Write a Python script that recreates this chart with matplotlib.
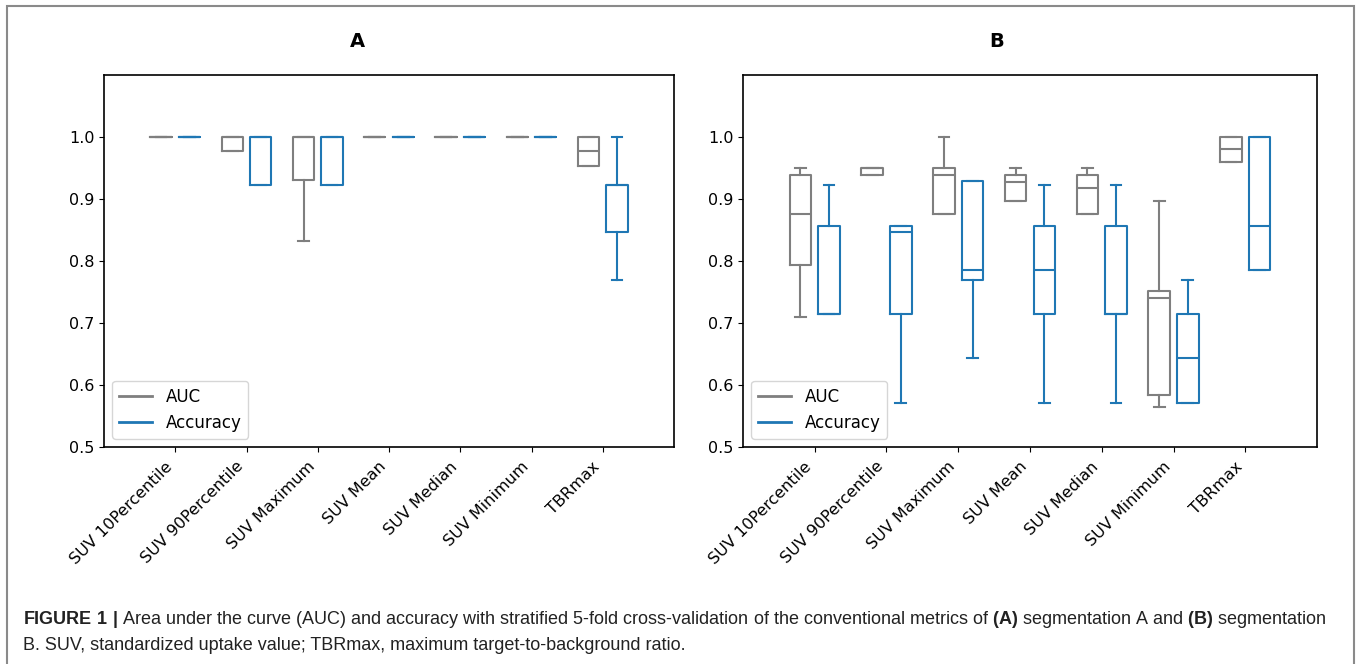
import matplotlib
matplotlib.use("Agg")
import matplotlib.pyplot as plt
from matplotlib.lines import Line2D
from matplotlib.patches import Rectangle

# category labels (same for both panels)
labels = ["SUV 10Percentile", "SUV 90Percentile", "SUV Maximum", "SUV Mean",
          "SUV Median", "SUV Minimum", "TBRmax"]

# panel A - segmentation A
a_auc_lo  = [1.0, 0.977, 0.833, 1.0, 1.0, 1.0, 0.953]
a_auc_q1  = [1.0, 0.977, 0.930, 1.0, 1.0, 1.0, 0.953]
a_auc_med = [1.0, 1.0, 1.0, 1.0, 1.0, 1.0, 0.977]
a_auc_q3  = [1.0, 1.0, 1.0, 1.0, 1.0, 1.0, 1.0]
a_auc_hi  = [1.0, 1.0, 1.0, 1.0, 1.0, 1.0, 1.0]

a_acc_lo  = [1.0, 0.923, 0.923, 1.0, 1.0, 1.0, 0.769]
a_acc_q1  = [1.0, 0.923, 0.923, 1.0, 1.0, 1.0, 0.846]
a_acc_med = [1.0, 1.0, 1.0, 1.0, 1.0, 1.0, 0.923]
a_acc_q3  = [1.0, 1.0, 1.0, 1.0, 1.0, 1.0, 0.923]
a_acc_hi  = [1.0, 1.0, 1.0, 1.0, 1.0, 1.0, 1.0]

# panel B - segmentation B
b_auc_lo  = [0.709, 0.938, 0.876, 0.897, 0.876, 0.564, 0.959]
b_auc_q1  = [0.793, 0.938, 0.876, 0.897, 0.876, 0.584, 0.959]
b_auc_med = [0.876, 0.950, 0.938, 0.928, 0.918, 0.740, 0.980]
b_auc_q3  = [0.938, 0.950, 0.950, 0.938, 0.938, 0.751, 1.0]
b_auc_hi  = [0.950, 0.950, 1.0, 0.950, 0.950, 0.897, 1.0]

b_acc_lo  = [0.714, 0.571, 0.643, 0.571, 0.571, 0.571, 0.786]
b_acc_q1  = [0.714, 0.714, 0.770, 0.714, 0.714, 0.571, 0.786]
b_acc_med = [0.714, 0.846, 0.786, 0.786, 0.714, 0.643, 0.857]
b_acc_q3  = [0.857, 0.857, 0.929, 0.857, 0.857, 0.714, 1.0]
b_acc_hi  = [0.923, 0.857, 0.929, 0.923, 0.923, 0.770, 1.0]

GRAY = "#7f7f7f"
BLUE = "#1f77b4"

plt.rcParams['mathtext.fontset'] = 'custom'
plt.rcParams['mathtext.rm'] = 'Liberation Sans'
plt.rcParams['mathtext.bf'] = 'Liberation Sans:bold'


def make_stats(lo, q1, med, q3, hi):
    return [dict(whislo=lo[i], q1=q1[i], med=med[i], q3=q3[i], whishi=hi[i], fliers=[])
            for i in range(len(lo))]


def draw_boxes(ax, stats, pos, color):
    st = dict(color=color, linewidth=1.5)
    ax.bxp(stats, positions=pos, widths=0.3, showfliers=False,
           boxprops=st, whiskerprops=st, capprops=st, medianprops=st)


def panel(ax, auc, acc):
    n = len(labels)
    draw_boxes(ax, make_stats(*auc), [i + 1 - 0.2 for i in range(n)], GRAY)
    draw_boxes(ax, make_stats(*acc), [i + 1 + 0.2 for i in range(n)], BLUE)
    ax.set_xlim(0, 8)
    ax.set_ylim(0.5, 1.1)
    ax.set_xticks(range(1, n + 1))
    ax.set_xticklabels(labels, rotation=45, ha='right', fontsize=11.5)
    ax.set_yticks([0.5, 0.6, 0.7, 0.8, 0.9, 1.0])
    ax.set_yticklabels(["0.5", "0.6", "0.7", "0.8", "0.9", "1.0"], fontsize=11.5)
    ax.tick_params(axis='x', pad=5)
    for s in ax.spines.values():
        s.set_linewidth(1.2)
    hd = [Line2D([], [], color=GRAY, lw=2), Line2D([], [], color=BLUE, lw=2)]
    ax.legend(hd, ["AUC", "Accuracy"], loc='lower left', fontsize=12)


fig = plt.figure(figsize=(13.57, 6.64), dpi=100)
W, H = 1357, 664

axA = fig.add_axes([104 / W, 1 - 447 / H, 570 / W, 372 / H])
axB = fig.add_axes([743 / W, 1 - 447 / H, 574 / W, 372 / H])
panel(axA, (a_auc_lo, a_auc_q1, a_auc_med, a_auc_q3, a_auc_hi),
      (a_acc_lo, a_acc_q1, a_acc_med, a_acc_q3, a_acc_hi))
panel(axB, (b_auc_lo, b_auc_q1, b_auc_med, b_auc_q3, b_auc_hi),
      (b_acc_lo, b_acc_q1, b_acc_med, b_acc_q3, b_acc_hi))

fig.text(357 / W, 1 - 47 / H, "A", ha='center', va='baseline', fontsize=14, fontweight='bold')
fig.text(997 / W, 1 - 47 / H, "B", ha='center', va='baseline', fontsize=14, fontweight='bold')

# caption
cap1 = (r"$\mathbf{FIGURE\ 1\ |}$ Area under the curve (AUC) and accuracy with stratified "
        r"5-fold cross-validation of the conventional metrics of $\mathbf{(A)}$ segmentation A "
        r"and $\mathbf{(B)}$ segmentation")
cap2 = "B. SUV, standardized uptake value; TBRmax, maximum target-to-background ratio."
fig.text(23 / W, 1 - 624 / H, cap1, ha='left', va='baseline', fontsize=13,
         family='Liberation Sans', color='#222222')
fig.text(23 / W, 1 - 650 / H, cap2, ha='left', va='baseline', fontsize=13,
         family='Liberation Sans', color='#222222')

# outer frame
fig.patches.append(Rectangle((7 / W, -0.01), 1347 / W, 1 - 6 / H + 0.01,
                             transform=fig.transFigure, fill=False,
                             edgecolor='#8a8a8a', linewidth=1.5))

fig.savefig("out.png", dpi=100)
